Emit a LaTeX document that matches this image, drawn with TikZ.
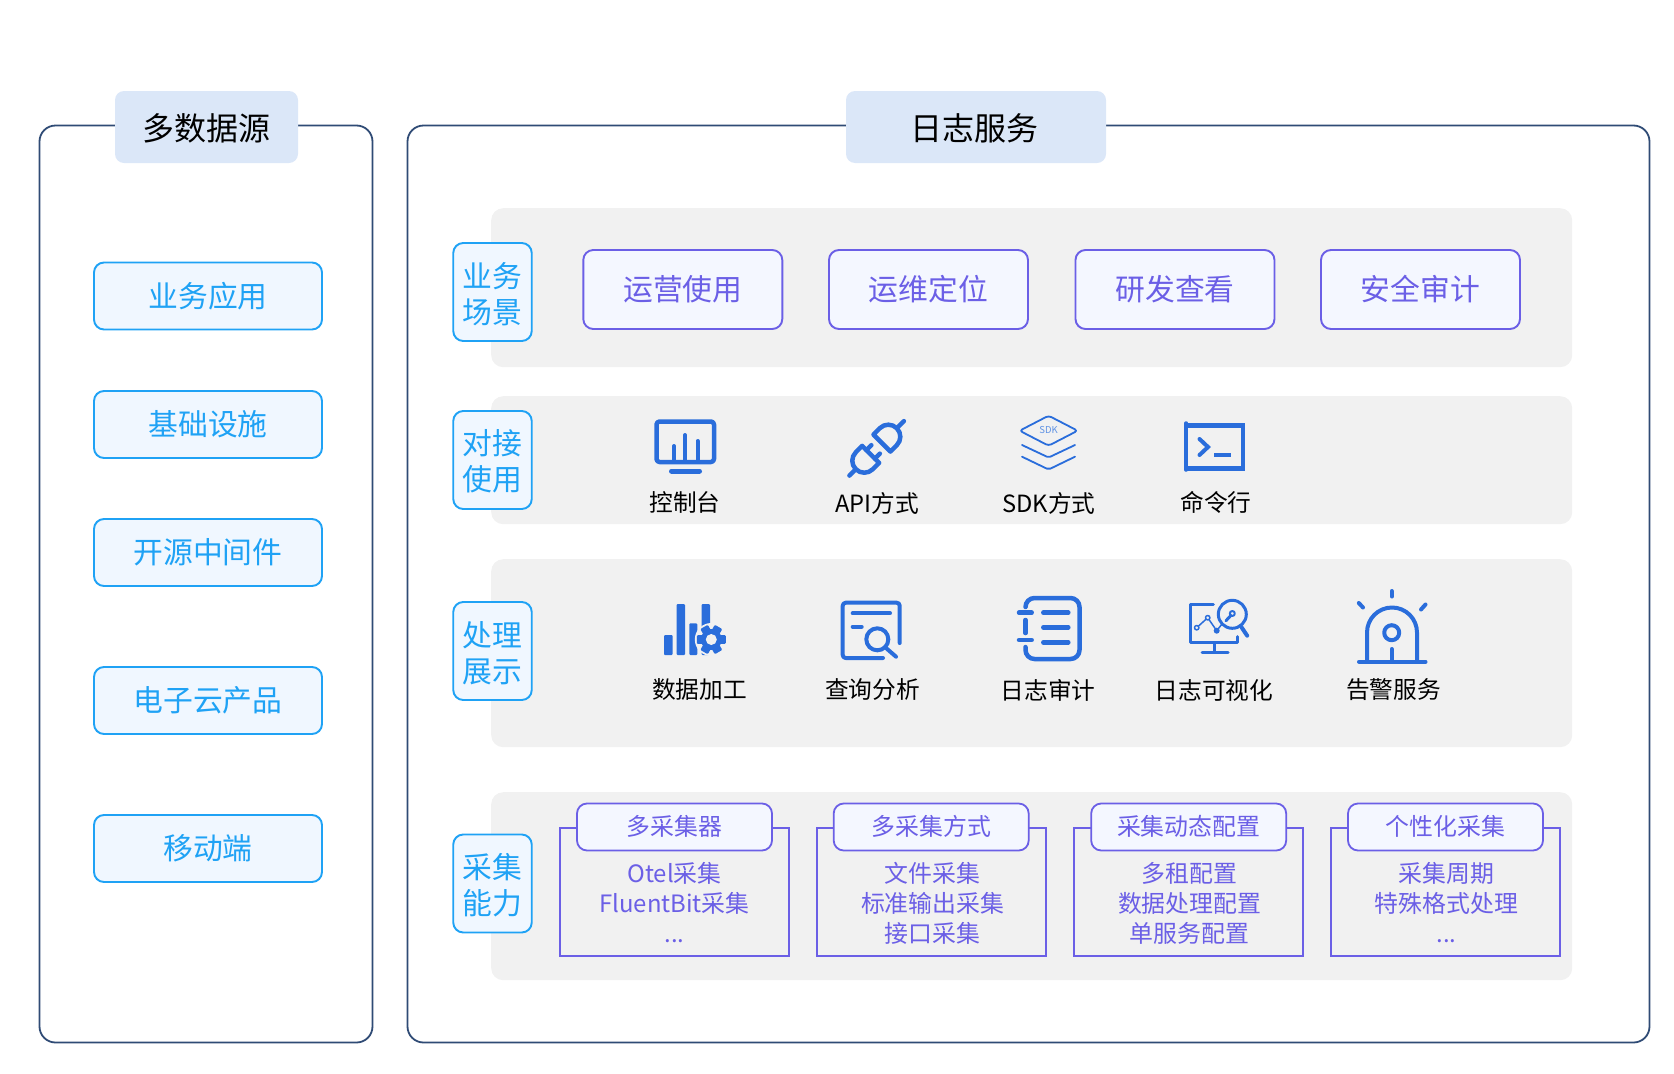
\documentclass[tikz,border=0pt]{standalone}
\usepackage{fontspec}
\setmainfont{Noto Sans CJK SC}
\definecolor{panelline}{HTML}{2F4B75}
\definecolor{titlefill}{HTML}{DBE7F8}
\definecolor{bandfill}{HTML}{F1F1F1}
\definecolor{skyline}{HTML}{1FA2F5}
\definecolor{skyfill}{HTML}{F0F7FF}
\definecolor{violetline}{HTML}{6B5FE6}
\definecolor{violetfill}{HTML}{F4F7FF}
\definecolor{iconblue}{HTML}{2A6DDB}
\tikzset{
  panel/.style={draw=panelline, line width=1.8pt, rounded corners=16pt, anchor=north west, outer sep=0pt},
  titlebox/.style={fill=titlefill, rounded corners=9pt, text height=31pt, text depth=4pt, font=\fontsize{32}{36}\selectfont},
  band/.style={fill=bandfill, rounded corners=12pt, anchor=north west},
  itembox/.style={draw=skyline, fill=skyfill, line width=1.9pt, rounded corners=10pt, minimum width=228pt, minimum height=67pt, text=skyline, font=\fontsize{29.8}{34}\selectfont},
  tagbox/.style={draw=skyline, fill=skyfill, line width=1.9pt, rounded corners=10pt, minimum width=78.5pt, minimum height=98pt, text=skyline, align=center, text height=64.5pt, font=\fontsize{29.8}{36}\selectfont},
  scenebox/.style={draw=violetline, fill=violetfill, line width=1.9pt, rounded corners=10pt, minimum width=199pt, minimum height=79pt, text=violetline, font=\fontsize{29.8}{34}\selectfont},
  framebox/.style={draw=violetline, line width=1.8pt, minimum width=229pt, minimum height=128pt},
  pillbox/.style={draw=violetline, fill=violetfill, line width=1.8pt, rounded corners=10pt, minimum width=195pt, minimum height=47pt, text=violetline, text height=19pt, font=\fontsize{23.9}{28}\selectfont},
  bodytext/.style={text=violetline, align=center, font=\fontsize{23.9}{30}\selectfont},
  iconlabel/.style={font=\fontsize{23.7}{28}\selectfont},
  icon/.style={draw=iconblue, line width=4.5pt, line cap=round, line join=round},
  thinicon/.style={draw=iconblue, line width=3pt, line cap=round, line join=round}
}
\begin{document}
\begin{tikzpicture}[x=1pt, y=-1pt]
  \useasboundingbox (0,0) rectangle (1674,1074);

  % Cadres
  \node[panel, minimum width=333pt, minimum height=917pt] (sourcepanel) at (39.5,125.5) {};
  \node[panel, minimum width=1242pt, minimum height=917pt] (logpanel) at (407.5,125.5) {};
  \node[titlebox, minimum width=183pt, minimum height=72pt] (sourcetitle) at (206.5,127) {多数据源};
  \node[titlebox, minimum width=260pt, minimum height=72pt] (logtitle) at (976,127) {日志服务\kern4pt};

  % Sources
  \node[itembox] (srcapp) at (208,296) {业务应用};
  \node[itembox] (srcinfra) at (208,424.5) {基础设施};
  \node[itembox] (srcmiddle) at (208,552.5) {开源中间件};
  \node[itembox] (srccloud) at (208,700.5) {电子云产品};
  \node[itembox] (srcmobile) at (208,848.5) {移动端};

  % Bandes grises
  \node[band, minimum width=1081pt, minimum height=159pt] (sceneband) at (491,208) {};
  \node[band, minimum width=1081pt, minimum height=128pt] (accessband) at (491,396) {};
  \node[band, minimum width=1081pt, minimum height=188pt] (showband) at (491,559) {};
  \node[band, minimum width=1081pt, minimum height=188pt] (collectband) at (491,792) {};

  % Etiquettes
  \node[tagbox] (scenetag) at (492.5,292) {业务\\场景};
  \node[tagbox] (accesstag) at (492.5,460) {对接\\使用};
  \node[tagbox] (showtag) at (492.5,651) {处理\\展示};
  \node[tagbox] (collecttag) at (492.5,883.5) {采集\\能力};

  % Scenes
  \node[scenebox] (sceneops) at (682.8,289.5) {运营使用};
  \node[scenebox] (scenefix) at (928.5,289.5) {运维定位};
  \node[scenebox] (scenedev) at (1175,289.5) {研发查看};
  \node[scenebox] (sceneaudit) at (1420.5,289.5) {安全审计};

  % Icones d'acces
  \draw[icon, rounded corners=3pt] (656.5,421.5) rectangle (714,462);
  \draw[icon, line width=5pt] (671.5,471) -- (699.5,471);
  \foreach \x/\y in {674/446, 685/435, 697.5/441}
    \draw[icon, line width=4pt] (\x,\y) -- (\x,461);
  \node[iconlabel] (lblconsole) at (685,502) {控制台};

  \begin{scope}[shift={(877,448)}, rotate=45]
    \draw[icon] (7,-12) -- (7,12) -- (16,12) arc (90:-90:12) -- cycle;
    \draw[icon] (28,0) -- (38,0);
    \draw[icon] (-9,-12) -- (-9,12) -- (-18,12) arc (90:270:12) -- cycle;
    \draw[icon] (-30,0) -- (-39,0);
    \draw[icon] (-9,-6) -- (-2,-6);
    \draw[icon] (-9,6) -- (-2,6);
  \end{scope}
  \node[iconlabel] (lblapi) at (877,503) {API方式};

  \draw[thinicon, line width=1.8pt, rounded corners=3pt] (1019.6,430.7) -- (1048.6,415.7) -- (1077.6,430.7) -- (1048.6,445.7) -- cycle;
  \node[text=iconblue!75, font=\fontsize{9.5}{10}\selectfont, inner sep=0pt] (sdkmark) at (1048.6,430.5) {SDK};
  \draw[thinicon, line width=1.8pt, rounded corners=2pt] (1022,445) -- (1048.6,457.5) -- (1075,445);
  \draw[thinicon, line width=1.8pt, rounded corners=2pt] (1022,456.7) -- (1048.6,469.5) -- (1075,456.7);
  \node[iconlabel] (lblsdk) at (1049,503) {SDK方式};

  \fill[iconblue] (1184.5,422.5) rectangle (1244.5,428);
  \fill[iconblue] (1184.5,466) rectangle (1244.5,471);
  \draw[icon, line width=3.5pt] (1186.2,423) -- (1186.2,470);
  \draw[icon, line width=3.5pt, line cap=butt] (1242.8,423) -- (1242.8,470);
  \draw[icon, line width=4pt, line join=miter] (1199.5,439) -- (1208,447) -- (1199.5,455);
  \draw[icon, line width=4.5pt, line cap=butt] (1214,455) -- (1231,455);
  \node[iconlabel] (lblcmd) at (1216,502) {命令行};

  % Icones de traitement
  \foreach \xa/\xb/\y in {664/672.7/635, 676.7/685/604, 689.3/697.3/623.3, 701.7/710/604}
    \fill[iconblue, rounded corners=1pt] (\xa,\y) rectangle (\xb,655);
  \fill[bandfill] (711.3,639.5) circle (16.5);
  \foreach \a in {30,90,...,330}
    \fill[iconblue, rotate around={\a:(711.3,639.5)}, rounded corners=1pt] (707,625) rectangle (715.6,634);
  \fill[iconblue] (711.3,639.5) circle (10.5);
  \fill[bandfill] (711.3,639.5) circle (5.5);
  \node[iconlabel] (lblprocess) at (699.5,690) {数据加工};

  \draw[icon, line width=4pt, rounded corners=3pt] (899.7,643) -- (899.7,602.7) -- (842.7,602.7) -- (842.7,658) -- (883,658);
  \draw[icon, line width=4pt] (852.7,613.3) -- (890,613.3);
  \draw[icon, line width=4pt] (852.7,626.7) -- (861.7,626.7);
  \draw[icon, line width=4pt] (877.3,639.3) circle (11);
  \draw[icon, line width=4pt] (886,648) -- (896,656.7);
  \node[iconlabel] (lblquery) at (872.5,690) {查询分析};

  \draw[icon, rounded corners=9pt] (1025.5,607) -- (1025.5,598) -- (1079.5,598) -- (1079.5,659) -- (1025.5,659) -- (1025.5,647);
  \draw[icon] (1025.5,620) -- (1025.5,633);
  \draw[icon] (1019,612.7) -- (1031.7,612.7);
  \draw[icon] (1019,640) -- (1031.7,640);
  \foreach \y in {612.7, 627.3, 642.3}
    \draw[icon] (1043.3,\y) -- (1068.3,\y);
  \node[iconlabel] (lblaudit) at (1048,690) {日志审计};

  \draw[thinicon] (1213.3,604.8) -- (1190.8,604.8) -- (1190.8,642.5) -- (1237.8,642.5) -- (1237.8,636.7);
  \draw[thinicon] (1214.3,642.5) -- (1214.3,652);
  \draw[thinicon] (1202,652.5) -- (1228,652.5);
  \draw[thinicon] (1232.3,614.3) circle (14);
  \draw[thinicon, line width=4pt] (1241.7,627.5) -- (1247.2,635.7);
  \draw[thinicon, line width=2pt] (1232.3,613.5) circle (2.5);
  \draw[thinicon] (1230.8,615.5) -- (1226,620.7);
  \draw[thinicon, line width=1.5pt] (1196.7,627.7) -- (1207.7,617.7) -- (1216.7,630.7) -- (1222,624);
  \draw[thinicon, line width=1.5pt, fill=bandfill] (1196.7,627.7) circle (2.2);
  \draw[thinicon, line width=1.5pt, fill=bandfill] (1207.7,617.7) circle (2.2);
  \fill[iconblue] (1216.7,630.7) circle (3);
  \node[iconlabel] (lblvisual) at (1214,690) {日志可视化};

  \draw[icon, line width=4pt] (1367,661.7) -- (1367,632.5) arc (180:360:25) -- (1417,661.7);
  \draw[icon, line width=4pt] (1359,661.7) -- (1425.5,661.7);
  \draw[icon, line width=4pt] (1391.7,632.7) circle (7.5);
  \draw[icon, line width=4pt] (1391.7,649) -- (1391.7,661.7);
  \draw[icon, line width=4pt] (1391.7,591) -- (1391.7,596.5);
  \draw[icon, line width=4pt] (1358.8,603) -- (1363,607.5);
  \draw[icon, line width=4pt] (1425.5,604.5) -- (1421,609.5);
  \node[iconlabel] (lblalarm) at (1393.5,690) {告警服务};

  % Capacites de collecte
  \foreach \name/\x/\fx/\bx/\head/\body in {
      one/674.5/674.5/674.5/多采集器/{Otel采集\\FluentBit采集\\...},
      two/931.2/931.7/932.7/多采集方式/{文件采集\\标准输出采集\\接口采集},
      three/1188.7/1188.7/1189.7/采集动态配置/{多租配置\\数据处理配置\\单服务配置},
      four/1445.5/1445.5/1446.5/个性化采集/{采集周期\\特殊格式处理\\...}} {
    \node[framebox] (frame\name) at (\fx,892) {};
    \node[pillbox] (pill\name) at (\x,827) {\head};
    \node[bodytext] (body\name) at (\bx,903) {\body};
  }
\end{tikzpicture}
\end{document}
